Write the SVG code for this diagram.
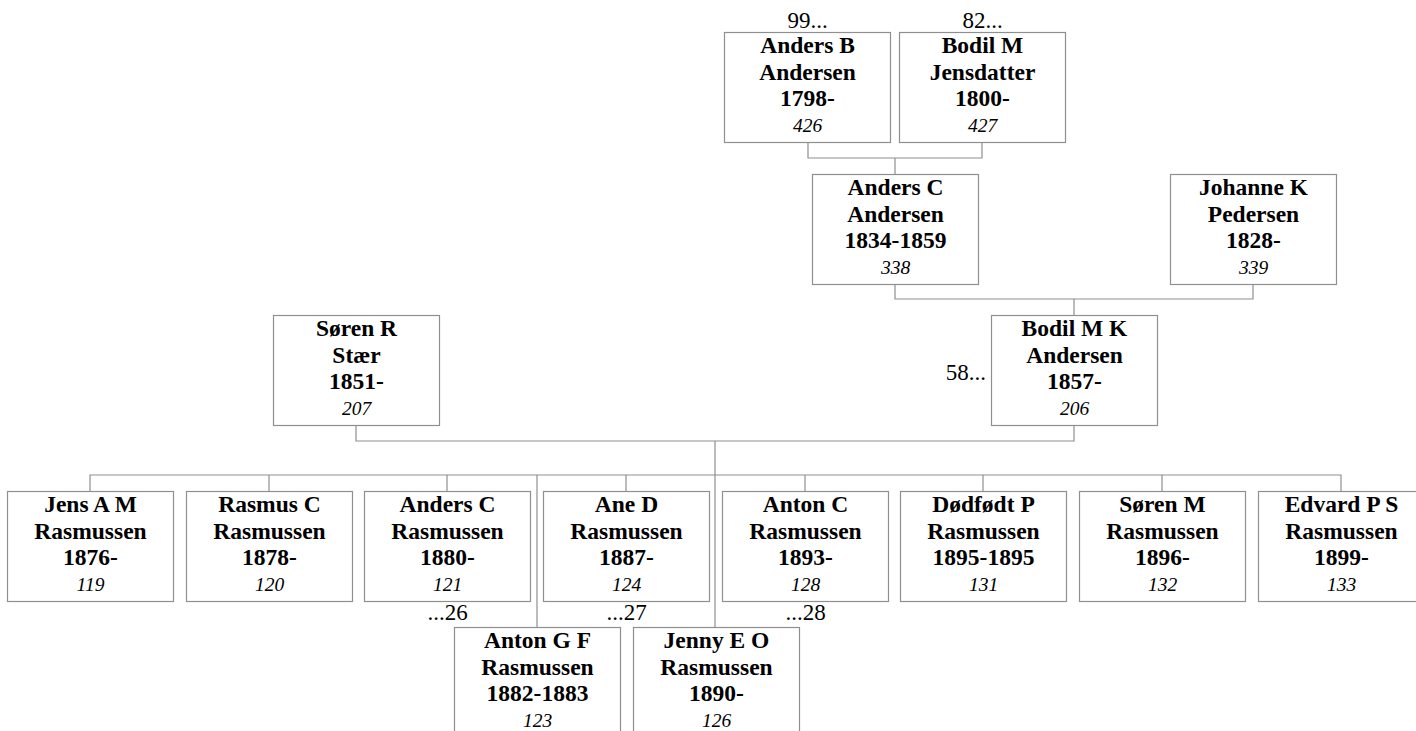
<svg xmlns="http://www.w3.org/2000/svg" width="1416" height="731" viewBox="0 0 1416 731">
<style>
.box{fill:#fff;stroke:#8f8f8f;stroke-width:1.2}
.ln{fill:none;stroke:#8f8f8f;stroke-width:1.2}
text{font-family:'Liberation Serif','Times New Roman',Times,serif;fill:#000}
.n{font-weight:bold;font-size:23.5px;text-anchor:middle}
.i{font-style:italic;font-size:19.5px;text-anchor:middle}
.l{font-size:23px}
</style>
<rect width="1416" height="731" fill="#fff"/>
<g id="connectors">
<path class="ln" d="M808 142V158H982V142M895 158V174"/>
<path class="ln" d="M895 284V299H1253V284M1074 299V315"/>
<path class="ln" d="M356 425V441H1074V425M715 441V627"/>
<path class="ln" d="M90 491V475H1341V491M269 475V491M447 475V491M626 475V491M805 475V491M983 475V491M1162 475V491M537 475V627"/>
</g>
<g id="p426"><rect class="box" x="724.5" y="32.5" width="166" height="110"/><text class="n"><tspan x="807.5" y="53">Anders B</tspan><tspan x="807.5" y="79.5">Andersen</tspan><tspan x="807.5" y="106">1798-</tspan></text><text class="i" x="807.5" y="131.5">426</text><text class="l" x="807.5" y="28" text-anchor="middle">99...</text></g>
<g id="p427"><rect class="box" x="899.5" y="32.5" width="166" height="110"/><text class="n"><tspan x="982.5" y="53">Bodil M</tspan><tspan x="982.5" y="79.5">Jensdatter</tspan><tspan x="982.5" y="106">1800-</tspan></text><text class="i" x="982.5" y="131.5">427</text><text class="l" x="982.5" y="28" text-anchor="middle">82...</text></g>
<g id="p338"><rect class="box" x="812.5" y="174.5" width="166" height="110"/><text class="n"><tspan x="895.5" y="195">Anders C</tspan><tspan x="895.5" y="221.5">Andersen</tspan><tspan x="895.5" y="248">1834-1859</tspan></text><text class="i" x="895.5" y="273.5">338</text></g>
<g id="p339"><rect class="box" x="1170.5" y="174.5" width="166" height="110"/><text class="n"><tspan x="1253.5" y="195">Johanne K</tspan><tspan x="1253.5" y="221.5">Pedersen</tspan><tspan x="1253.5" y="248">1828-</tspan></text><text class="i" x="1253.5" y="273.5">339</text></g>
<g id="p207"><rect class="box" x="273.5" y="315.5" width="166" height="110"/><text class="n"><tspan x="356.5" y="336">Søren R</tspan><tspan x="356.5" y="362.5">Stær</tspan><tspan x="356.5" y="389">1851-</tspan></text><text class="i" x="356.5" y="414.5">207</text></g>
<g id="p206"><rect class="box" x="991.5" y="315.5" width="166" height="110"/><text class="n"><tspan x="1074.5" y="336">Bodil M K</tspan><tspan x="1074.5" y="362.5">Andersen</tspan><tspan x="1074.5" y="389">1857-</tspan></text><text class="i" x="1074.5" y="414.5">206</text><text class="l" x="986" y="380" text-anchor="end">58...</text></g>
<g id="p119"><rect class="box" x="7.5" y="491.5" width="166" height="110"/><text class="n"><tspan x="90.5" y="512">Jens A M</tspan><tspan x="90.5" y="538.5">Rasmussen</tspan><tspan x="90.5" y="565">1876-</tspan></text><text class="i" x="90.5" y="590.5">119</text></g>
<g id="p120"><rect class="box" x="186.5" y="491.5" width="166" height="110"/><text class="n"><tspan x="269.5" y="512">Rasmus C</tspan><tspan x="269.5" y="538.5">Rasmussen</tspan><tspan x="269.5" y="565">1878-</tspan></text><text class="i" x="269.5" y="590.5">120</text></g>
<g id="p121"><rect class="box" x="364.5" y="491.5" width="166" height="110"/><text class="n"><tspan x="447.5" y="512">Anders C</tspan><tspan x="447.5" y="538.5">Rasmussen</tspan><tspan x="447.5" y="565">1880-</tspan></text><text class="i" x="447.5" y="590.5">121</text><text class="l" x="447.5" y="620" text-anchor="middle">...26</text></g>
<g id="p124"><rect class="box" x="543.5" y="491.5" width="166" height="110"/><text class="n"><tspan x="626.5" y="512">Ane D</tspan><tspan x="626.5" y="538.5">Rasmussen</tspan><tspan x="626.5" y="565">1887-</tspan></text><text class="i" x="626.5" y="590.5">124</text><text class="l" x="626.5" y="620" text-anchor="middle">...27</text></g>
<g id="p128"><rect class="box" x="722.5" y="491.5" width="166" height="110"/><text class="n"><tspan x="805.5" y="512">Anton C</tspan><tspan x="805.5" y="538.5">Rasmussen</tspan><tspan x="805.5" y="565">1893-</tspan></text><text class="i" x="805.5" y="590.5">128</text><text class="l" x="805.5" y="620" text-anchor="middle">...28</text></g>
<g id="p131"><rect class="box" x="900.5" y="491.5" width="166" height="110"/><text class="n"><tspan x="983.5" y="512">Dødfødt P</tspan><tspan x="983.5" y="538.5">Rasmussen</tspan><tspan x="983.5" y="565">1895-1895</tspan></text><text class="i" x="983.5" y="590.5">131</text></g>
<g id="p132"><rect class="box" x="1079.5" y="491.5" width="166" height="110"/><text class="n"><tspan x="1162.5" y="512">Søren M</tspan><tspan x="1162.5" y="538.5">Rasmussen</tspan><tspan x="1162.5" y="565">1896-</tspan></text><text class="i" x="1162.5" y="590.5">132</text></g>
<g id="p133"><rect class="box" x="1258.5" y="491.5" width="166" height="110"/><text class="n"><tspan x="1341.5" y="512">Edvard P S</tspan><tspan x="1341.5" y="538.5">Rasmussen</tspan><tspan x="1341.5" y="565">1899-</tspan></text><text class="i" x="1341.5" y="590.5">133</text></g>
<g id="p123"><rect class="box" x="454.5" y="627.5" width="166" height="110"/><text class="n"><tspan x="537.5" y="648">Anton G F</tspan><tspan x="537.5" y="674.5">Rasmussen</tspan><tspan x="537.5" y="701">1882-1883</tspan></text><text class="i" x="537.5" y="726.5">123</text></g>
<g id="p126"><rect class="box" x="633.5" y="627.5" width="166" height="110"/><text class="n"><tspan x="716.5" y="648">Jenny E O</tspan><tspan x="716.5" y="674.5">Rasmussen</tspan><tspan x="716.5" y="701">1890-</tspan></text><text class="i" x="716.5" y="726.5">126</text></g>
</svg>
